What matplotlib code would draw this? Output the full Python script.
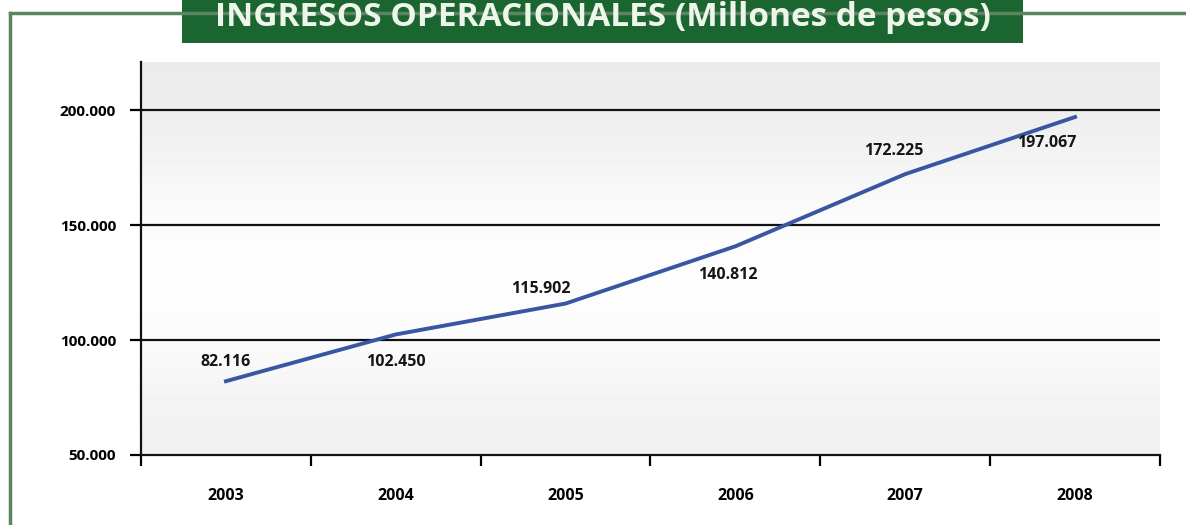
import matplotlib.pyplot as plt
import numpy as np
from matplotlib.patches import Rectangle
from matplotlib.lines import Line2D

years = ['2003', '2004', '2005', '2006', '2007', '2008']
ingresos = [82.116, 102.450, 115.902, 140.812, 172.225, 197.067]
etiquetas = ['82.116', '102.450', '115.902', '140.812', '172.225', '197.067']
yticks = [50, 100, 150, 200]
ytick_labels = ['50.000', '100.000', '150.000', '200.000']

W, H = 1186, 525
fig = plt.figure(figsize=(W / 100, H / 100), dpi=100)
fig.patch.set_facecolor('white')

# green frame + title box (pixel coords)
green_line = '#5b8460'
fig.add_artist(Line2D([10 / W, 10 / W], [0, 1 - 13 / H], color=green_line, lw=2.5,
                      transform=fig.transFigure))
fig.add_artist(Line2D([10 / W, 1], [1 - 13 / H, 1 - 13 / H], color=green_line, lw=2.5,
                      transform=fig.transFigure))
fig.add_artist(Rectangle((182 / W, 1 - 43 / H), (1023 - 182) / W, 43 / H + 0.01,
                         transform=fig.transFigure, facecolor='#1b6630', edgecolor='none'))
fig.text(603 / W, 1 - 26 / H, 'INGRESOS OPERACIONALES (Millones de pesos)',
         color='#eef5ea', fontsize=24, fontweight='bold', family='Open Sans',
         ha='center', va='baseline')

ax = fig.add_axes([141 / W, (H - 455) / H, (1160 - 141) / W, (455 - 62) / H])
x = np.arange(len(years))
ax.set_xlim(-0.5, 5.5)
ax.set_ylim(50, 221)

# gradient background
grad = np.array([0.92, 0.955, 0.99, 0.995, 0.98, 0.94]).reshape(-1, 1)
ax.imshow(grad, cmap='gray', vmin=0, vmax=1, aspect='auto',
          extent=(-0.5, 5.5, 50, 221), interpolation='bicubic', zorder=0)

for v in yticks[1:]:
    ax.axhline(v, color='#111111', lw=1.6, zorder=1)

ax.plot(x, ingresos, color='#3a56a3', lw=2.8, zorder=3)

offsets = [(0, 19), (0, -28), (-25, 15), (-8, -29), (-12, 23), (-28, -26)]
for xi, yi, lab, (dx, dy) in zip(x, ingresos, etiquetas, offsets):
    ax.annotate(lab, (xi, yi), xytext=(dx, dy), textcoords='offset pixels',
                ha='center', va='center', fontsize=11.5, fontweight='bold',
                family='Open Sans', color='#151515', zorder=4)

for s in ['top', 'right']:
    ax.spines[s].set_visible(False)
for s in ['left', 'bottom']:
    ax.spines[s].set_linewidth(1.6)
    ax.spines[s].set_color('#111111')

ax.set_yticks(yticks)
ax.set_yticklabels(ytick_labels, fontsize=11, fontweight='bold', family='Open Sans')
ax.tick_params(axis='y', direction='out', length=8, width=1.6, pad=10)

ax.set_xticks(x)
ax.set_xticklabels(years, fontsize=11.5, fontweight='bold', family='Open Sans')
ax.set_xticks(np.arange(-0.5, 6, 1), minor=True)
ax.tick_params(axis='x', which='major', length=0, pad=24)
ax.tick_params(axis='x', which='minor', direction='out', length=8, width=1.6)

fig.savefig('out.png', dpi=100)
